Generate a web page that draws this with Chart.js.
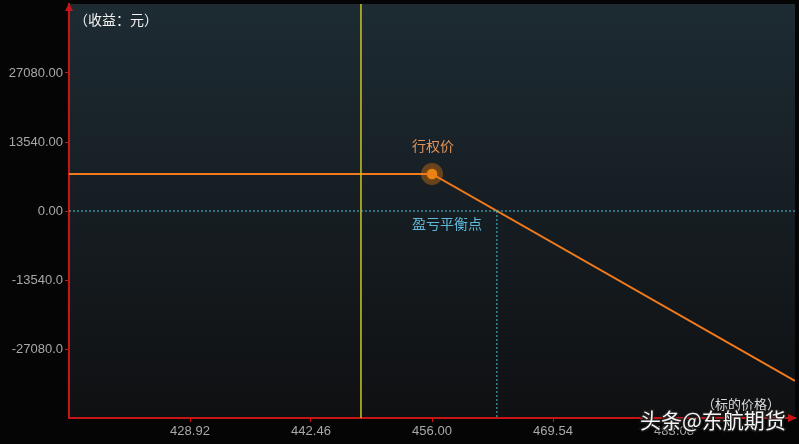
<!DOCTYPE html>
<html>
<head>
<meta charset="utf-8">
<script src="https://cdn.jsdelivr.net/npm/chart.js@4.4.1/dist/chart.umd.min.js"></script>
<style>
  html, body { margin: 0; padding: 0; background: #050505; }
  #wrap { width: 799px; height: 444px; }
</style>
</head>
<body>
<div id="wrap"><canvas id="payoff"></canvas></div>
<script>
// ===== Data =====
const payoffPrices = [415.38, 456.0, 496.62];
const payoffValues = [7260, 7260, -33360];
const strikePrice = 456.0;
const strikeValue = 7260;
const currentPrice = 448.05;
const breakEvenPrice = 463.26;

const xTickValues = [428.92, 442.46, 456.0, 469.54, 483.08];
const xTickLabels = ["428.92", "442.46", "456.00", "469.54", "483.08"];
const yTickValues = [27080, 13540, 0, -13540, -27080];
const yTickLabels = ["27080.00", "13540.00", "0.00", "-13540.0", "-27080.0"];
const xMin = 415.38, xMax = 496.62;
const yMin = -40620, yMax = 40620;

const AXIS_RED = "#c81414";
const CJK = '"Noto Sans CJK SC", "Noto Sans", sans-serif';

// ===== Background + axis arrows + text =====
const decorPlugin = {
  id: "decor",
  beforeDraw(chart) {
    const { ctx, chartArea: a } = chart;
    ctx.save();
    ctx.fillStyle = "#050505";
    ctx.fillRect(0, 0, chart.width, chart.height);
    const g = ctx.createLinearGradient(0, a.top, 0, a.bottom);
    g.addColorStop(0, "#1d2b33");
    g.addColorStop(1, "#0f1012");
    ctx.fillStyle = g;
    ctx.fillRect(a.left, a.top, a.right - a.left, a.bottom - a.top);
    ctx.restore();
  },
  afterDraw(chart) {
    const { ctx, chartArea: a } = chart;
    ctx.save();
    // axis arrows
    ctx.fillStyle = AXIS_RED;
    ctx.beginPath();
    ctx.moveTo(a.left, a.top - 1);
    ctx.lineTo(a.left - 4, a.top + 7);
    ctx.lineTo(a.left + 4, a.top + 7);
    ctx.closePath();
    ctx.fill();
    ctx.beginPath();
    ctx.moveTo(a.right + 2, a.bottom);
    ctx.lineTo(a.right - 7, a.bottom - 4);
    ctx.lineTo(a.right - 7, a.bottom + 4);
    ctx.closePath();
    ctx.fill();

    const x = chart.scales.x, y = chart.scales.y;
    ctx.font = "14px " + CJK;
    ctx.textBaseline = "middle";
    ctx.fillStyle = "#f2f2f2";
    ctx.textAlign = "left";
    ctx.fillText("（收益：元）", a.left + 5, 20);

    ctx.textAlign = "center";
    ctx.fillStyle = "#e0935a";
    ctx.fillText("行权价", x.getPixelForValue(strikePrice) + 1, y.getPixelForValue(strikeValue) - 28);
    ctx.fillStyle = "#5fb8d6";
    ctx.fillText("盈亏平衡点", x.getPixelForValue(strikePrice) + 15, y.getPixelForValue(0) + 13);
    ctx.font = "13px " + CJK;
    ctx.fillStyle = "#dcdcdc";
    ctx.fillText("（标的价格）", a.right - 54, a.bottom - 14);

    // watermark
    ctx.font = "21px " + CJK;
    ctx.textAlign = "left";
    ctx.lineWidth = 3;
    ctx.strokeStyle = "rgba(30,30,30,0.85)";
    ctx.strokeText("头条@东航期货", 640, a.bottom + 2);
    ctx.fillStyle = "#f4f4f4";
    ctx.fillText("头条@东航期货", 640, a.bottom + 2);
    ctx.restore();
  },
};

// ===== Chart =====
const payoffData = payoffPrices.map((p, i) => ({ x: p, y: payoffValues[i] }));

new Chart(document.getElementById("payoff"), {
  type: "scatter",
  data: {
    datasets: [
      {
        // zero line
        data: [{ x: xMin, y: 0 }, { x: xMax, y: 0 }],
        showLine: true,
        borderColor: "#45c3d2",
        borderWidth: 1,
        borderDash: [2, 2],
        pointRadius: 0,
      },
      {
        // break-even vertical
        data: [{ x: breakEvenPrice, y: 0 }, { x: breakEvenPrice, y: yMin }],
        showLine: true,
        borderColor: "#45c3d2",
        borderWidth: 1,
        borderDash: [2, 2],
        pointRadius: 0,
      },
      {
        // current price
        data: [{ x: currentPrice, y: yMin }, { x: currentPrice, y: yMax }],
        showLine: true,
        borderColor: "#c9c62a",
        borderWidth: 1.5,
        pointRadius: 0,
      },
      {
        data: payoffData,
        showLine: true,
        borderColor: "#f07a1c",
        borderWidth: 2,
        pointRadius: 0,
      },
      {
        // strike halo
        data: [{ x: strikePrice, y: strikeValue }],
        pointRadius: 11,
        pointBackgroundColor: "rgba(200,110,20,0.45)",
        pointBorderWidth: 0,
      },
      {
        data: [{ x: strikePrice, y: strikeValue }],
        pointRadius: 6,
        pointBackgroundColor: "#ff9a0a",
        pointBorderColor: "#3a2208",
        pointBorderWidth: 1.5,
      },
    ],
  },
  options: {
    responsive: true,
    maintainAspectRatio: false,
    animation: false,
    layout: { autoPadding: false, padding: { top: 4, right: 4, left: 0, bottom: 0 } },
    plugins: { legend: { display: false }, tooltip: { enabled: false } },
    scales: {
      x: {
        type: "linear",
        min: xMin,
        max: xMax,
        afterBuildTicks: (s) => { s.ticks = xTickValues.map((v) => ({ value: v })); },
        afterFit: (s) => { s.height = 26; s.paddingLeft = 0; s.paddingRight = 0; },
        ticks: {
          color: "#a8a8a8",
          font: { family: '"Liberation Sans", Arial, sans-serif', size: 13 },
          padding: 2,
          maxRotation: 0,
          callback: (v) => xTickLabels[xTickValues.indexOf(v)],
        },
        grid: { drawOnChartArea: false, color: AXIS_RED, tickLength: 4 },
        border: { color: AXIS_RED, width: 2 },
      },
      y: {
        type: "linear",
        min: yMin,
        max: yMax,
        afterBuildTicks: (s) => { s.ticks = yTickValues.map((v) => ({ value: v })); },
        afterFit: (s) => { s.width = 69; s.paddingTop = 0; s.paddingBottom = 0; },
        ticks: {
          color: "#a8a8a8",
          font: { family: '"Liberation Sans", Arial, sans-serif', size: 13 },
          padding: 2,
          callback: (v) => yTickLabels[yTickValues.indexOf(v)],
        },
        grid: { drawOnChartArea: false, color: AXIS_RED, tickLength: 4 },
        border: { color: AXIS_RED, width: 2 },
      },
    },
  },
  plugins: [decorPlugin],
});
</script>
</body>
</html>
